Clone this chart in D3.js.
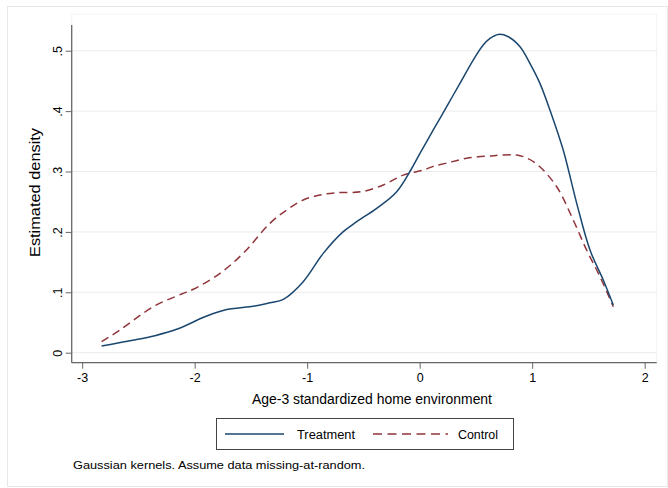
<!DOCTYPE html>
<html><head><meta charset="utf-8">
<script src="https://cdn.jsdelivr.net/npm/d3@7"></script>
<style>
body{margin:0;background:#fff;}
text{font-family:"Liberation Sans",Arial,Helvetica,sans-serif;fill:#000;}
</style></head>
<body><svg id="c" width="668" height="488"></svg>
<script>
// Data
const treatX = [-2.827,-2.55,-2.353,-2.16,-1.893,-1.731,-1.464,-1.331,-1.212,-1.035,-0.857,-0.679,-0.56,-0.382,-0.204,-0.071,0.0027,0.121,0.24,0.358,0.476,0.565,0.625,0.699,0.788,0.892,0.98,1.069,1.158,1.276,1.396,1.514,1.632,1.721];
const treatY = [0.0111,0.0205,0.0282,0.0387,0.0608,0.0707,0.0773,0.0828,0.0884,0.1176,0.1645,0.2004,0.2169,0.239,0.2666,0.305,0.330,0.3688,0.4073,0.446,0.4846,0.5094,0.5204,0.527,0.5232,0.5066,0.4791,0.446,0.4018,0.3356,0.2473,0.17,0.1204,0.079];
const ctrlX = [-2.827,-2.664,-2.368,-2.116,-2.012,-1.775,-1.568,-1.331,-1.182,-1.035,-0.886,-0.738,-0.516,-0.324,-0.146,0.032,0.121,0.24,0.418,0.654,0.714,0.862,0.951,1.05,1.218,1.365,1.484,1.603,1.721];
const ctrlY = [0.0182,0.0376,0.0762,0.0972,0.105,0.1314,0.1646,0.2142,0.2363,0.2528,0.2611,0.2649,0.2666,0.2776,0.294,0.3025,0.3085,0.314,0.3219,0.3262,0.3273,0.3273,0.3225,0.311,0.2748,0.2197,0.17,0.1258,0.0762];
const xTicks = [-3,-2,-1,0,1,2];
const xTickLabels = ["-3","-2","-1","0","1","2"];
const yTicks = [0,0.1,0.2,0.3,0.4,0.5];
const yTickLabels = ["0",".1",".2",".3",".4",".5"];
const seriesNames = ["Treatment","Control"];

const svg = d3.select("#c");
const L = 71.7, R = 656.7, T = 14, B = 362.7;
const x = d3.scaleLinear().domain([-3.093, 2.107]).range([L, R]);
const y = d3.scaleLinear().domain([-0.01656, 0.5608]).range([B, T]);

// outer frame
svg.append("rect").attr("x",7.5).attr("y",6.5).attr("width",660).attr("height",480)
  .attr("fill","#fff").attr("stroke","#e8e8e8");
svg.append("rect").attr("x",L).attr("y",T).attr("width",R-L).attr("height",B-T)
  .attr("fill","#fff").attr("stroke","#f3f3f3");

// gridlines
svg.append("g").selectAll("line").data(yTicks).join("line")
  .attr("x1",L).attr("x2",R).attr("y1",d=>y(d)).attr("y2",d=>y(d))
  .attr("stroke","#ebebeb").attr("stroke-width",1);

// axes
const gx = svg.append("g").attr("transform",`translate(0,${B})`)
  .call(d3.axisBottom(x).tickValues(xTicks).tickSize(6).tickPadding(4).tickSizeOuter(0)
  .tickFormat((d,i)=>xTickLabels[i]));
const gy = svg.append("g").attr("transform",`translate(${L},0)`)
  .call(d3.axisLeft(y).tickValues(yTicks).tickSize(6).tickSizeOuter(0).tickFormat((d,i)=>yTickLabels[i]));
[gx,gy].forEach(g=>{
  g.select(".domain").attr("stroke","#666").attr("stroke-width",1.3);
  g.selectAll(".tick line").attr("stroke","#666");
});
gx.selectAll(".tick text").attr("font-size",12.5).attr("font-family","Liberation Sans, Arial, sans-serif").attr("fill","#000");
gx.select(".domain").attr("d",`M${L},0H${R}`);
gy.selectAll(".tick text").attr("font-size",12.5).attr("font-family","Liberation Sans, Arial, sans-serif").attr("fill","#000")
  .attr("text-anchor","middle")
  .each(function(){
    d3.select(this).attr("x",null).attr("transform","translate(-14,0) rotate(-90)").attr("dy","0.35em");
  });
gy.select(".domain").attr("d",`M0,${B}V25`);

// axis titles
svg.append("text").attr("x",372).attr("y",404).attr("text-anchor","middle")
  .attr("font-size",14).attr("textLength",240).attr("lengthAdjust","spacingAndGlyphs")
  .text("Age-3 standardized home environment");
svg.append("text").attr("transform",`translate(40,192.5) rotate(-90)`).attr("text-anchor","middle")
  .attr("font-size",15.5).attr("textLength",129).attr("lengthAdjust","spacingAndGlyphs")
  .text("Estimated density");

// lines
const line = d3.line().x(d=>x(d[0])).y(d=>y(d[1])).curve(d3.curveCatmullRom.alpha(0.5));
svg.append("path").datum(ctrlX.map((v,i)=>[v,ctrlY[i]])).attr("d",line)
  .attr("fill","none").attr("stroke","#90353b").attr("stroke-width",1.5).attr("stroke-dasharray","8,5");
svg.append("path").datum(treatX.map((v,i)=>[v,treatY[i]])).attr("d",line)
  .attr("fill","none").attr("stroke","#1a476f").attr("stroke-width",1.5);

// legend
const lg = svg.append("g");
lg.append("rect").attr("x",216.5).attr("y",418.5).attr("width",297).attr("height",31)
  .attr("fill","#fff").attr("stroke","#444").attr("stroke-width",1);
lg.append("line").attr("x1",225).attr("x2",284).attr("y1",434).attr("y2",434)
  .attr("stroke","#1a476f").attr("stroke-width",1.5);
lg.append("text").attr("x",297).attr("y",438.5).attr("font-size",12).attr("textLength",58)
  .attr("lengthAdjust","spacingAndGlyphs").text(seriesNames[0]);
lg.append("line").attr("x1",373).attr("x2",448).attr("y1",434).attr("y2",434)
  .attr("stroke","#90353b").attr("stroke-width",1.5).attr("stroke-dasharray","9,5.5");
lg.append("text").attr("x",458).attr("y",438.5).attr("font-size",12).attr("textLength",40)
  .attr("lengthAdjust","spacingAndGlyphs").text(seriesNames[1]);

// note
svg.append("text").attr("x",73).attr("y",469).attr("font-size",11).attr("textLength",292)
  .attr("lengthAdjust","spacingAndGlyphs")
  .text("Gaussian kernels. Assume data missing-at-random.");
</script></body></html>
